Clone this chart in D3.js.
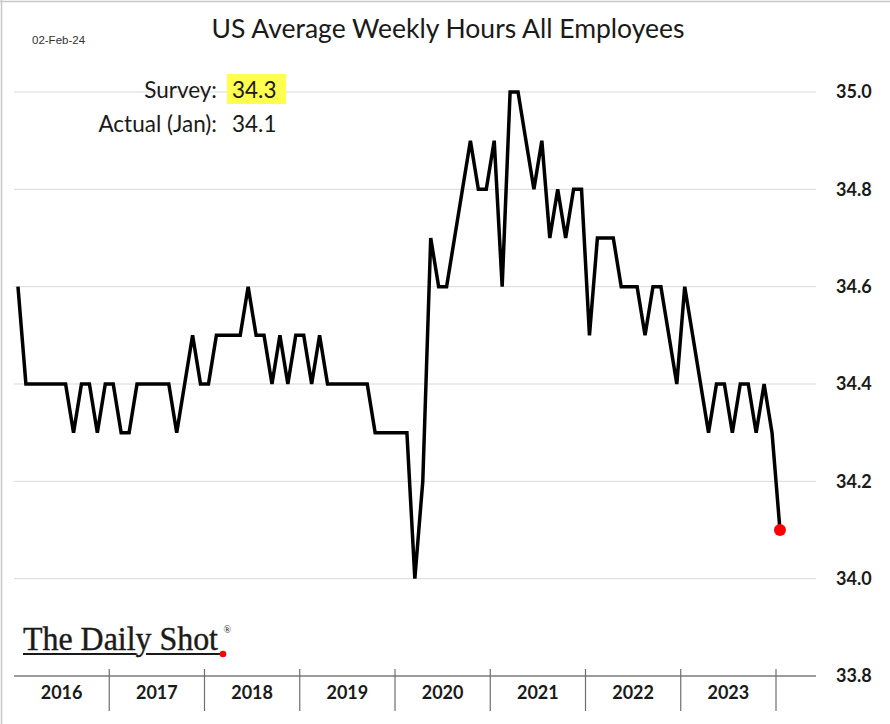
<!DOCTYPE html>
<html>
<head>
<meta charset="utf-8">
<script src="https://cdn.jsdelivr.net/npm/d3@7/dist/d3.min.js"></script>
<style>
  html, body { margin: 0; padding: 0; background: #ffffff; }
  svg { display: block; }
</style>
</head>
<body>
<script>
// ---- data (monthly, Jan 2016 .. Jan 2024) ----
const startYear = 2016;
const hours = [
  34.6, 34.4, 34.4, 34.4, 34.4, 34.4, 34.4, 34.3, 34.4, 34.4, 34.3, 34.4,   // 2016
  34.4, 34.3, 34.3, 34.4, 34.4, 34.4, 34.4, 34.4, 34.3, 34.4, 34.5, 34.4,   // 2017
  34.4, 34.5, 34.5, 34.5, 34.5, 34.6, 34.5, 34.5, 34.4, 34.5, 34.4, 34.5,   // 2018
  34.5, 34.4, 34.5, 34.4, 34.4, 34.4, 34.4, 34.4, 34.4, 34.3, 34.3, 34.3,   // 2019
  34.3, 34.3, 34.0, 34.2, 34.7, 34.6, 34.6, 34.7, 34.8, 34.9, 34.8, 34.8,   // 2020
  34.9, 34.6, 35.0, 35.0, 34.9, 34.8, 34.9, 34.7, 34.8, 34.7, 34.8, 34.8,   // 2021
  34.5, 34.7, 34.7, 34.7, 34.6, 34.6, 34.6, 34.5, 34.6, 34.6, 34.5, 34.4,   // 2022
  34.6, 34.5, 34.4, 34.3, 34.4, 34.4, 34.3, 34.4, 34.4, 34.3, 34.4, 34.3,   // 2023
  34.1                                                                      // Jan 2024
];
const yearLabels = ["2016", "2017", "2018", "2019", "2020", "2021", "2022", "2023"];
const yTicks = [33.8, 34.0, 34.2, 34.4, 34.6, 34.8, 35.0];
const titleText = "US Average Weekly Hours All Employees";
const dateText = "02-Feb-24";
const surveyLabel = "Survey:";
const surveyValue = "34.3";
const actualLabel = "Actual (Jan):";
const actualValue = "34.1";

// ---- layout ----
const W = 890, H = 724;
const svg = d3.select("body").append("svg").attr("width", W).attr("height", H);

// months since Jan 2016 (boundaries); points sit mid-month
const x = d3.scaleLinear().domain([0, 96]).range([14, 776]);
const y = d3.scaleLinear().domain([33.8, 35.0]).range([676, 92]);
const plotRight = 816;

// frame (left / top edges)
svg.append("line").attr("x1", 1.5).attr("x2", 1.5).attr("y1", 0).attr("y2", H)
  .attr("stroke", "#c8c8c8").attr("stroke-width", 1.5);
svg.append("line").attr("x1", 0).attr("x2", W).attr("y1", 1.5).attr("y2", 1.5)
  .attr("stroke", "#c8c8c8").attr("stroke-width", 1.5);

// gridlines
svg.append("g").selectAll("line")
  .data(yTicks.filter(t => t > 33.8))
  .join("line")
  .attr("x1", x(0)).attr("x2", plotRight)
  .attr("y1", d => y(d)).attr("y2", d => y(d))
  .attr("stroke", "#d9d9d9").attr("stroke-width", 1);

// right axis labels
const yAxis = d3.axisRight(y).tickValues(yTicks).tickSize(0).tickPadding(0)
  .tickFormat(d3.format(".1f"));
const gy = svg.append("g").attr("transform", `translate(836,0)`).call(yAxis);
gy.select(".domain").remove();
gy.selectAll("text")
  .attr("font-family", "Lato, 'Open Sans', sans-serif")
  .attr("font-weight", "bold")
  .attr("font-size", 18)
  .attr("fill", "#1a1a1a");

// bottom axis line
svg.append("line")
  .attr("x1", x(0)).attr("x2", plotRight)
  .attr("y1", y(33.8)).attr("y2", y(33.8))
  .attr("stroke", "#7a7a7a").attr("stroke-width", 1.5);

// year separators
const seps = d3.range(1, yearLabels.length + 1).map(k => k * 12);
svg.append("g").selectAll("line")
  .data(seps)
  .join("line")
  .attr("x1", d => x(d)).attr("x2", d => x(d))
  .attr("y1", 669).attr("y2", 711)
  .attr("stroke", "#6e6e6e").attr("stroke-width", 1.2);

// year labels
svg.append("g").selectAll("text")
  .data(yearLabels)
  .join("text")
  .attr("x", (d, i) => x(i * 12 + 6))
  .attr("y", 699)
  .attr("text-anchor", "middle")
  .attr("font-family", "Lato, 'Open Sans', sans-serif")
  .attr("font-weight", "bold")
  .attr("font-size", 18)
  .attr("fill", "#1a1a1a")
  .text(d => d);

// line
const line = d3.line()
  .x((d, i) => x(i + 0.5))
  .y(d => y(d));
svg.append("path")
  .datum(hours)
  .attr("d", line)
  .attr("fill", "none")
  .attr("stroke", "#000000")
  .attr("stroke-width", 3.5)
  .attr("stroke-linejoin", "miter")
  .attr("stroke-miterlimit", 4);

// last point marker
const lastI = hours.length - 1;
svg.append("circle")
  .attr("cx", x(lastI + 0.5)).attr("cy", y(hours[lastI]))
  .attr("r", 6).attr("fill", "#ff0000");

// title
svg.append("text")
  .attr("x", 448).attr("y", 37.5)
  .attr("text-anchor", "middle")
  .attr("font-family", "Lato, 'Open Sans', sans-serif")
  .attr("font-size", 26.5)
  .attr("fill", "#1a1a1a")
  .text(titleText);

// date stamp
svg.append("text")
  .attr("x", 32).attr("y", 43.5)
  .attr("font-family", "'Liberation Sans Narrow', 'Liberation Sans', sans-serif")
  .attr("font-size", 11.5)
  .attr("fill", "#333")
  .text(dateText);

// survey / actual annotation
svg.append("rect")
  .attr("x", 227).attr("y", 74).attr("width", 59).attr("height", 30)
  .attr("fill", "#ffff4d");
const annoFont = "Lato, 'Open Sans', sans-serif";
[[surveyLabel, surveyValue, 98], [actualLabel, actualValue, 131.5]].forEach(([lab, val, yy]) => {
  svg.append("text")
    .attr("x", 217).attr("y", yy)
    .attr("text-anchor", "end")
    .attr("font-family", annoFont).attr("font-size", 22.5).attr("fill", "#1a1a1a")
    .text(lab);
  svg.append("text")
    .attr("x", 232).attr("y", yy)
    .attr("font-family", annoFont).attr("font-size", 22.5).attr("fill", "#1a1a1a")
    .text(val);
});

// logo
const logo = svg.append("g");
logo.append("text")
  .attr("x", 23).attr("y", 650)
  .attr("font-family", "'Liberation Serif', 'DejaVu Serif', serif")
  .attr("font-size", 33)
  .attr("textLength", 195).attr("lengthAdjust", "spacingAndGlyphs")
  .attr("fill", "#1a1a1a")
  .attr("stroke", "#1a1a1a").attr("stroke-width", 0.4)
  .text("The Daily Shot");
logo.append("text")
  .attr("x", 223.5).attr("y", 633)
  .attr("font-family", "'Liberation Serif', serif")
  .attr("font-size", 10)
  .attr("fill", "#1a1a1a")
  .text("®");
logo.append("line").attr("x1", 23).attr("x2", 136).attr("y1", 654).attr("y2", 654)
  .attr("stroke", "#1a1a1a").attr("stroke-width", 1.8);
logo.append("line").attr("x1", 146).attr("x2", 221).attr("y1", 654).attr("y2", 654)
  .attr("stroke", "#1a1a1a").attr("stroke-width", 1.8);
logo.append("circle").attr("cx", 223).attr("cy", 654).attr("r", 3.3).attr("fill", "#ff0000");
</script>
</body>
</html>
